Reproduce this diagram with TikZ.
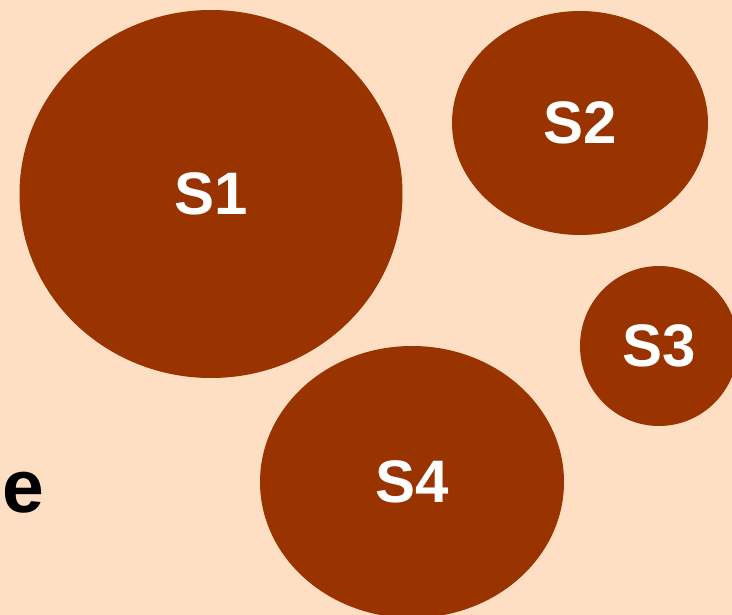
\documentclass[tikz,border=0pt]{standalone}
\usepackage{fontspec}
\setmainfont{Liberation Sans}
\usepackage{xcolor}
\usetikzlibrary{shapes.geometric}
\definecolor{peach}{HTML}{FFDFC4}
\definecolor{rust}{HTML}{993300}
\tikzset{
  setblob/.style={ellipse,fill=rust,text=white,inner sep=0pt,
    font=\fontsize{60}{60}\selectfont\bfseries}
}

\begin{document}
\begin{tikzpicture}[x=1pt,y=-1pt]
\useasboundingbox (0,0) rectangle (732,615);
\clip (0,0) rectangle (732,615);
\fill[peach] (0,0) rectangle (732,615);
\node[setblob,minimum width=383pt,minimum height=368pt] (s1) at (211,194) {S1};
\node[setblob,minimum width=256pt,minimum height=224pt] (s2) at (580,123) {S2};
\node[setblob,minimum width=158pt,minimum height=160pt] (s3) at (659,346) {S3};
\node[setblob,minimum width=304pt,minimum height=272pt] (s4) at (412,482) {S4};
\node[anchor=base west,inner sep=0pt,font=\fontsize{75}{75}\selectfont\bfseries] (lbl) at (2,512) {e};
\end{tikzpicture}
\end{document}
